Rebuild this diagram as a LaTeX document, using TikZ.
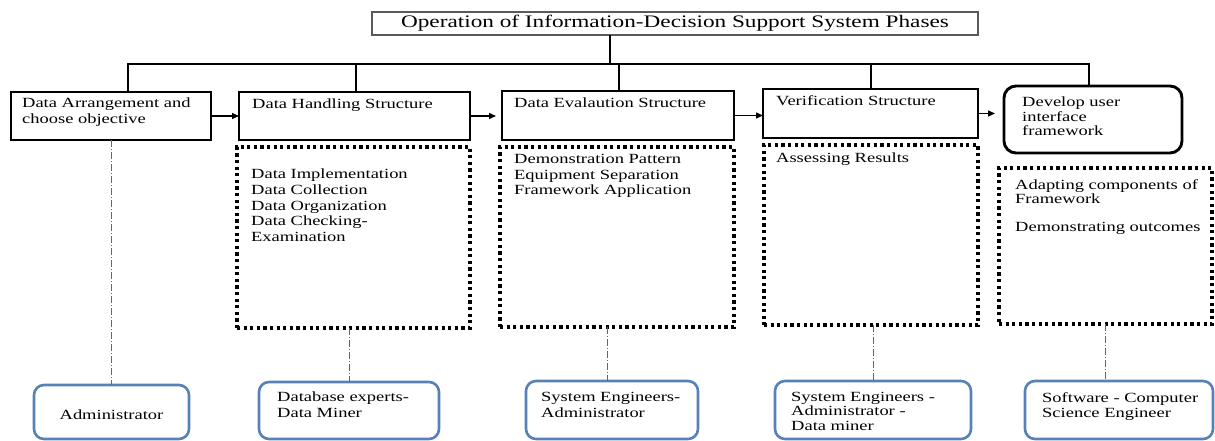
\documentclass[tikz,border=0pt]{standalone}
\usepackage{fontspec}
\setmainfont{Liberation Serif}[FakeStretch=1.32]
\usetikzlibrary{arrows.meta,calc}
\definecolor{rolblue}{RGB}{88,128,185}
\definecolor{titlegray}{RGB}{90,90,90}
\newcommand\bodyfont{\fontsize{14pt}{15.6pt}\selectfont}
\newcommand\tightfont{\fontsize{14pt}{14.3pt}\selectfont}
\newcommand\titlefont{\fontsize{17.6pt}{19pt}\selectfont}
\begin{document}
\begin{tikzpicture}[x=1pt,y=-1pt,
  box/.style={rectangle, anchor=north west, outer sep=0pt, inner sep=0pt},
  phase/.style={box, draw, line width=2.9pt},
  rphase/.style={phase, rounded corners=12pt},
  titlebox/.style={box, draw=titlegray, line width=1.2pt, font=\titlefont},
  dotbox/.style={box, draw, line width=3.2pt, dash pattern=on 3.2pt off 3.4pt},
  rolebox/.style={box, draw=rolblue, line width=2.6pt, rounded corners=10pt},
  txt/.style={anchor=north west, inner sep=0pt, align=left, font=\bodyfont},
  ttxt/.style={anchor=north west, inner sep=0pt, align=left, font=\tightfont},
  conn/.style={line width=1.4pt, black},
  arr/.style={line width=1.3pt, -{Triangle[length=7pt,width=6pt]}},
  dd/.style={line width=0.8pt, black!60, dash pattern=on 7pt off 2pt on 1pt off 2pt}
]
\useasboundingbox (0,0) rectangle (1215,441);

% title
\node[titlebox, minimum width=606pt, minimum height=23pt] (title) at (372,12) {Operation of Information-Decision Support System Phases};

% phase boxes
\node[phase, minimum width=200pt, minimum height=48pt] (b1) at (11,92) {};
\node[phase, minimum width=231pt, minimum height=48pt] (b2) at (239,92) {};
\node[phase, minimum width=232pt, minimum height=49pt] (b3) at (502,91) {};
\node[phase, minimum width=215pt, minimum height=49pt] (b4) at (763,89) {};
\node[rphase, minimum width=178pt, minimum height=67pt] (b5) at (1004,86) {};

\node[txt] (t1) at ($(b1.north west)+(11,6)$) {Data Arrangement and\\choose objective};
\node[txt] (t2) at ($(b2.north west)+(13,7)$) {Data Handling Structure};
\node[txt] (t3) at ($(b3.north west)+(12,7)$) {Data Evalaution Structure};
\node[txt] (t4) at ($(b4.north west)+(13,6)$) {Verification Structure};
\node[ttxt] (t5) at ($(b5.north west)+(18,11)$) {Develop user\\interface\\framework};

% dotted boxes
\node[dotbox, minimum width=233pt, minimum height=181pt] (d2) at (237,147) {};
\node[dotbox, minimum width=234pt, minimum height=180pt] (d3) at (500,147) {};
\node[dotbox, minimum width=214pt, minimum height=180pt] (d4) at (764,145) {};
\node[dotbox, minimum width=213pt, minimum height=156pt] (d5) at (999,168) {};

\node[txt] (s2) at ($(d2.north west)+(14,22)$) {Data Implementation\\Data Collection\\Data Organization\\Data Checking-\\Examination};
\node[txt] (s3) at ($(d3.north west)+(14,7)$) {Demonstration Pattern\\Equipment Separation\\Framework Application};
\node[txt] (s4) at ($(d4.north west)+(12,8)$) {Assessing Results};
\node[ttxt] (s5) at ($(d5.north west)+(16,11)$) {Adapting components of\\Framework\\[14.3pt]Demonstrating outcomes};

% role boxes
\node[rolebox, minimum width=155pt, minimum height=54pt] (adm) at (34,385) {};
\node[rolebox, minimum width=180pt, minimum height=57pt] (db) at (259,382) {};
\node[rolebox, minimum width=172pt, minimum height=58pt] (se) at (526,381) {};
\node[rolebox, minimum width=196pt, minimum height=58pt] (sea) at (775,381) {};
\node[rolebox, minimum width=188pt, minimum height=58pt] (sw) at (1025,381) {};

\node[inner sep=0pt, font=\bodyfont] (r1) at ($(adm.center)+(0,3)$) {Administrator};
\node[txt] (r2) at ($(db.north west)+(18,10)$) {Database experts-\\Data Miner};
\node[txt] (r3) at ($(se.north west)+(15,11)$) {System Engineers-\\Administrator};
\node[ttxt] (r4) at ($(sea.north west)+(16,11)$) {System Engineers -\\Administrator -\\Data miner};
\node[txt] (r5) at ($(sw.north west)+(17,11)$) {Software - Computer\\Science Engineer};

% tree connectors
\coordinate (tj) at (610,64);
\coordinate (j1) at (128,64);
\coordinate (j2) at (356,64);
\coordinate (j3) at (619,64);
\coordinate (j4) at (871,64);
\coordinate (j5) at (1089,64);
\draw[conn] (tj |- title.south) -- (tj);
\draw[conn] (j1 |- b1.north) -- (j1) -- (j5) -- (j5 |- b5.north);
\draw[conn] (j2) -- (j2 |- b2.north);
\draw[conn] (j3) -- (j3 |- b3.north);
\draw[conn] (j4) -- (j4 |- b4.north);

% arrows
\draw[arr] (b1.east) -- (b1.east -| b2.west);
\draw[arr, shorten >=6pt] (b2.east) -- (b2.east -| b3.west);
\draw[arr] (b3.east) -- (b3.east -| b4.west);
\draw[arr, shorten >=9pt] (b4.east) -- (b4.east -| b5.west);

% dash-dot links
\draw[dd] (b1.south) -- (b1.south |- adm.north);
\draw[dd] (db.north |- d2.south) -- (db.north);
\draw[dd] ([xshift=-5pt]se.north |- d3.south) -- ([xshift=-5pt]se.north);
\draw[dd] (sea.north |- d4.south) -- (sea.north);
\draw[dd] (d5.south) -- (d5.south |- sw.north);
\end{tikzpicture}
\end{document}
